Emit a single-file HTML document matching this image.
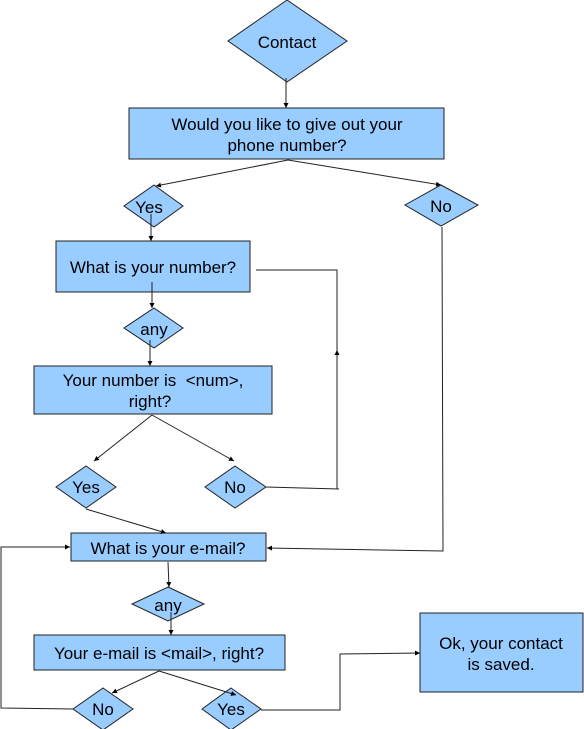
<!DOCTYPE html>
<html><head><meta charset="utf-8"><style>
html,body{margin:0;padding:0;background:#fff;}
svg{display:block;}
text{font-family:"Liberation Sans",Arial,sans-serif;font-size:17px;fill:#000;text-anchor:middle;}
</style></head><body>
<svg width="584" height="729" viewBox="0 0 584 729" xmlns="http://www.w3.org/2000/svg">
<defs><marker id="a" markerWidth="6" markerHeight="6" refX="5" refY="3" orient="auto" markerUnits="userSpaceOnUse"><path d="M0,0.5 L5,3 L0,5.5 z" fill="#000"/></marker></defs>
<g fill="#99ccff" stroke="#222" stroke-width="1">
<polygon points="287,0 347,41 287,82 228,41"/>
<rect x="129" y="108" width="315" height="51"/>
<polygon points="154,185 183,206 154,227 124,206"/>
<polygon points="441,185 478,205 441,226 405,205"/>
<rect x="56" y="241" width="194" height="51"/>
<polygon points="154,308 183,328 154,348 124,328"/>
<rect x="34" y="366" width="238" height="48"/>
<polygon points="86,466 116,487 86,508 56,487"/>
<polygon points="235,466 266,487 235,508 205,487"/>
<rect x="71" y="533" width="195" height="28"/>
<polygon points="168,587 204,604 168,621 132,604"/>
<rect x="34" y="635" width="251" height="35"/>
<polygon points="103,688 133,709 103,730 73,709"/>
<polygon points="231,688 261,709 231,730 202,709"/>
<rect x="420" y="613" width="163" height="79"/>
</g>
<g fill="none" stroke="#222" stroke-width="1">
<line x1="286" y1="78" x2="286" y2="108" marker-end="url(#a)"/>
<line x1="288" y1="160" x2="156" y2="186" marker-end="url(#a)"/>
<line x1="288" y1="160" x2="441" y2="185" marker-end="url(#a)"/>
<line x1="151" y1="214" x2="151" y2="241" marker-end="url(#a)"/>
<line x1="152" y1="282" x2="152" y2="308" marker-end="url(#a)"/>
<line x1="150" y1="340" x2="150" y2="366" marker-end="url(#a)"/>
<line x1="152" y1="415" x2="94" y2="461" marker-end="url(#a)"/>
<line x1="152" y1="415" x2="234" y2="461" marker-end="url(#a)"/>
<polyline points="256,270 337,270 337,489"/>
<polyline points="266,487 339,489"/>
<line x1="337" y1="400" x2="337" y2="350" marker-end="url(#a)"/>
<polyline points="442,227 443,551 267,548" marker-end="url(#a)"/>
<line x1="86" y1="509" x2="166" y2="533" marker-end="url(#a)"/>
<line x1="168" y1="562" x2="169" y2="587" marker-end="url(#a)"/>
<line x1="171" y1="612" x2="171" y2="635" marker-end="url(#a)"/>
<line x1="159" y1="671" x2="112" y2="693" marker-end="url(#a)"/>
<line x1="159" y1="671" x2="236" y2="695" marker-end="url(#a)"/>
<polyline points="73,709 1,708 1,547 70,547" marker-end="url(#a)"/>
<polyline points="261,710 340,710 340,654 420,653" marker-end="url(#a)"/>
</g>
<text x="287" y="48">Contact</text>
<text x="287" y="130">Would you like to give out your</text>
<text x="287" y="151">phone number?</text>
<text x="149" y="213">Yes</text>
<text x="441" y="212">No</text>
<text x="153" y="273">What is your number?</text>
<text x="154" y="335">any</text>
<text x="153" y="386">Your number is&#160; &lt;num&gt;,</text>
<text x="150" y="407">right?</text>
<text x="86" y="493">Yes</text>
<text x="235" y="493">No</text>
<text x="168" y="554">What is your e-mail?</text>
<text x="168" y="611">any</text>
<text x="159" y="659">Your e-mail is &lt;mail&gt;, right?</text>
<text x="103" y="715">No</text>
<text x="231" y="715">Yes</text>
<text x="501" y="649">Ok, your contact</text>
<text x="501" y="670">is saved.</text>
</svg>
</body></html>
